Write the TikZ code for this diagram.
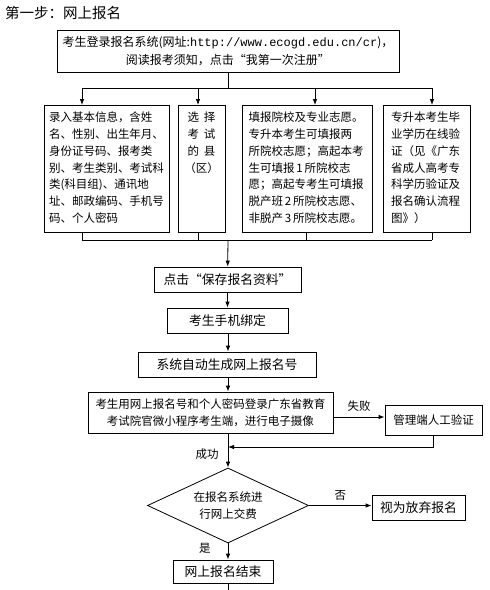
\documentclass[tikz,border=0pt]{standalone}
\usepackage{fontspec}
\setmainfont{Noto Sans CJK SC}
\newfontfamily\urlfont{Liberation Mono}
\usetikzlibrary{arrows.meta,shapes.geometric}

\tikzset{
  stepbox/.style={draw, line width=0.8pt, align=center, inner sep=2pt, minimum height=25pt, font=\fontsize{12.8}{17}\selectfont},
  itembox/.style={draw, line width=0.8pt, anchor=north, align=left, inner ysep=3pt, text height=13.5pt, text depth=107.5pt, font=\fontsize{11.5}{16.7}\selectfont},
  link/.style={line width=0.8pt},
  arr/.style={link, -{Latex[length=6pt,width=4.5pt]}},
  tag/.style={font=\fontsize{11.5}{14}\selectfont, inner sep=1pt}
}

\begin{document}
\begin{tikzpicture}[x=1pt,y=-1pt]
	\useasboundingbox (0,0) rectangle (490,590);
	\node(title) at (5,13) [anchor=west, inner sep=0pt, font=\fontsize{14.5}{16}\selectfont] {第一步：网上报名};
	% login and registration
	\node(top) at (228,51) [stepbox, minimum width=342pt, minimum height=42pt, font=\fontsize{12}{18}\selectfont]
		{考生登录报名系统(网址:{\urlfont http://www.ecogd.edu.cn/cr})，\\阅读报考须知，点击“我第一次注册”};
	\node(b1) at (106.5,105) [itembox, text width=115pt, inner xsep=5pt]
		{录入基本信息，含姓\\名、性别、出生年月、\\身份证号码、报考类\\别、考生类别、考试科\\类(科目组)、通讯地\\址、邮政编码、手机号\\码、个人密码};
	\node(b2) at (201.5,105) [itembox, text width=43pt, inner xsep=2pt, align=center]
		{选\hspace{5pt}择\\考\hspace{5pt}试\\的\hspace{5pt}县\\（区）};
	\node(b3) at (307,105) [itembox, text width=117pt, inner xsep=6.5pt]
		{填报院校及专业志愿。\\专升本考生可填报两\\所院校志愿；高起本考\\生可填报\,1\,所院校志\\愿；高起专考生可填报\\脱产班\,2\,所院校志愿、\\非脱产\,3\,所院校志愿。};
	\node(b4) at (426.5,105) [itembox, text width=71pt, inner xsep=8pt]
		{专升本考生毕\\业学历在线验\\证（见《广东\\省成人高考专\\科学历验证及\\报名确认流程\\图》）};
	\coordinate(fork) at (228,88);
	\coordinate(c1) at (82,88);
	\coordinate(c2) at (198,88);
	\coordinate(c3) at (315,88);
	\coordinate(c4) at (432,88);
	\draw [link] (top.south) -- (fork);
	\draw [link] (c1) -- (c4);
	\draw [arr] (c1) -- (c1 |- b1.north);
	\draw [arr] (c2) -- (c2 |- b2.north);
	\draw [arr] (c3) -- (c3 |- b3.north);
	\draw [arr] (c4) -- (c4 |- b4.north);
	\coordinate(d1) at (82,240);
	\coordinate(d2) at (198,240);
	\coordinate(d3) at (306,240);
	\coordinate(d4) at (432,240);
	\coordinate(join) at (228,240);
	\draw [link] (d1 |- b1.south) -- (d1);
	\draw [link] (d2 |- b2.south) -- (d2);
	\draw [link] (d3 |- b3.south) -- (d3);
	\draw [link] (d4 |- b4.south) -- (d4);
	\draw [link] (d1) -- (d4);
	% main flow
	\node(save) at (227.5,279.5) [stepbox, minimum width=147pt] {点击“保存报名资料”};
	\node(phone) at (227.5,320.5) [stepbox, minimum width=121pt] {考生手机绑定};
	\node(gen) at (227,364.5) [stepbox, minimum width=178pt] {系统自动生成网上报名号};
	\node(login) at (210.5,412.5) [stepbox, minimum width=245pt, minimum height=41pt, font=\fontsize{11.5}{17}\selectfont]
		{考生用网上报名号和个人密码登录广东省教育\\考试院官微小程序考生端，进行电子摄像};
	\node(manual) at (433.5,420) [stepbox, minimum width=97pt, minimum height=30pt, font=\fontsize{11.5}{14}\selectfont] {管理端人工验证};
	\node(pay) at (228,505.5) [draw, line width=0.8pt, diamond, aspect=2.15, inner sep=0pt, minimum width=161pt, minimum height=75pt, align=center, font=\fontsize{11.5}{17}\selectfont]
		{在报名系统进\\行网上交费};
	\node(giveup) at (418.5,507.5) [stepbox, minimum width=93pt] {视为放弃报名};
	\node(finish) at (223,571.5) [stepbox, minimum width=100pt, minimum height=23pt] {网上报名结束};
	\coordinate(merge) at (228,447);
	\coordinate(tail) at (228,590);
	\draw [arr] (join) -- (save);
	\draw [arr] (save) -- (phone);
	\draw [arr] (phone.south -| join) -- (gen.north -| join);
	\draw [arr] (gen.south -| join) -- (login.north -| join);
	\draw [arr] ([yshift=-4.5pt]login.east) --node[tag, midway, above=4pt]{失败} ([yshift=-4.5pt]login.east -| manual.west);
	\draw [arr] (manual.south) |- (merge);
	\draw [arr] (login.south -| merge) --node[tag, pos=0.62, left=8pt]{成功} (pay.north);
	\draw [arr] (pay.east) --node[tag, midway, above=4pt]{否} (pay.east -| giveup.west);
	\draw [arr] (pay.south) --node[tag, pos=0.3, left=16pt]{是} (pay.south |- finish.north);
	\draw [link] (finish.south -| tail) -- (tail);
\end{tikzpicture}
\end{document}
